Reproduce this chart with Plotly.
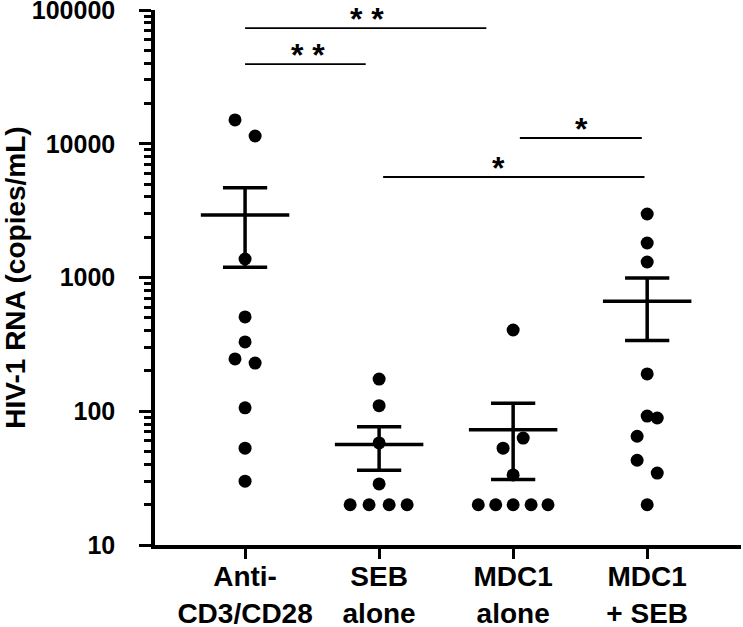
import numpy as np
import plotly.graph_objects as go

categories = ["Anti-<br>CD3/CD28", "SEB<br>alone", "MDC1<br>alone", "MDC1<br>+ SEB"]

anti_cd3 = [15070, 11430, 1375, 507, 330, 246, 229, 106, 53, 30]
seb_alone = [174, 110, 58, 28.6, 20, 20, 20, 20]
mdc1_alone = [405, 63, 53, 33.4, 20, 20, 20, 20, 20]
mdc1_seb = [2985, 1811, 1306, 190, 92, 89, 65, 43, 34.5, 20]

# horizontal scatter (jitter) offsets of the dots within each column
jit_anti = [-0.075, 0.075, 0, 0, 0, -0.075, 0.075, 0, 0, 0]
jit_seb = [0, 0, 0, 0, -0.216, -0.075, 0.075, 0.209]
jit_mdc1 = [0, 0.075, -0.075, 0, -0.26, -0.13, 0, 0.134, 0.26]
jit_mdc1_seb = [0, 0, 0, 0, 0, 0.075, -0.075, -0.075, 0.075, 0]

groups = [anti_cd3, seb_alone, mdc1_alone, mdc1_seb]
jitters = [jit_anti, jit_seb, jit_mdc1, jit_mdc1_seb]

# significance comparisons: start, end, bar level, label, label x
sig_x0 = [0.0, 0.0, 2.05, 1.03]
sig_x1 = [1.8, 0.9, 2.96, 2.98]
sig_y = [73300, 39400, 11040, 5640]
sig_label = ["* *", "* *", "*", "*"]
sig_label_x = [0.91, 0.47, 2.51, 1.89]

y_tick_vals = [10, 100, 1000, 10000, 100000]
y_tick_text = ["10", "100", "1000", "10000", "100000"]

FONT = "Liberation Sans, Arial, sans-serif"

fig = go.Figure()

# dots
for i, (vals, jit) in enumerate(zip(groups, jitters)):
    fig.add_trace(go.Scatter(
        x=[i + j for j in jit], y=vals, mode="markers",
        marker=dict(color="black", size=13, line=dict(width=0)),
        showlegend=False, hoverinfo="y"))

# mean and SEM
mx, my = [], []
ex, ey = [], []
for i, vals in enumerate(groups):
    v = np.array(vals, dtype=float)
    m = v.mean()
    sem = v.std(ddof=1) / np.sqrt(len(v))
    mx += [i - 0.33, i + 0.33, None]
    my += [m, m, None]
    ex += [i, i, None, i - 0.165, i + 0.165, None, i - 0.165, i + 0.165, None]
    ey += [m - sem, m + sem, None, m + sem, m + sem, None, m - sem, m - sem, None]

fig.add_trace(go.Scatter(x=mx, y=my, mode="lines",
                         line=dict(color="black", width=3.5),
                         showlegend=False, hoverinfo="skip"))
fig.add_trace(go.Scatter(x=ex, y=ey, mode="lines",
                         line=dict(color="black", width=3.5),
                         showlegend=False, hoverinfo="skip"))

# significance bars
bx, by = [], []
for x0, x1, y in zip(sig_x0, sig_x1, sig_y):
    bx += [x0, x1, None]
    by += [y, y, None]
fig.add_trace(go.Scatter(x=bx, y=by, mode="lines",
                         line=dict(color="black", width=1.8),
                         showlegend=False, hoverinfo="skip", cliponaxis=False))
for lx, y, s in zip(sig_label_x, sig_y, sig_label):
    fig.add_annotation(x=lx, y=np.log10(y), xref="x", yref="y",
                       text="<b>%s</b>" % s, showarrow=False,
                       yanchor="middle", xanchor="center", yshift=9,
                       font=dict(family=FONT, size=32, color="black"))

fig.update_layout(
    width=743, height=627,
    margin=dict(l=155, r=2, t=10, b=82, autoexpand=False),
    plot_bgcolor="white", paper_bgcolor="white",
    font=dict(family=FONT, color="black"),
    xaxis=dict(
        range=[-0.672, 3.70],
        automargin=False,
        tickmode="array", tickvals=[0, 1, 2, 3],
        ticktext=["<b>%s</b>" % c for c in categories],
        tickfont=dict(size=28, color="black"),
        ticklabelstandoff=-6,
        ticks="outside", ticklen=10, tickwidth=3, tickcolor="black",
        showline=True, linecolor="black", linewidth=3.5,
        showgrid=False, zeroline=False,
    ),
    yaxis=dict(
        type="log", range=[1, 5],
        automargin=False,
        tickmode="array", tickvals=y_tick_vals,
        ticktext=["<b>%s</b>" % t for t in y_tick_text],
        tickfont=dict(size=25, color="black"),
        ticklabeloverflow="allow",
        ticklabelstandoff=19,
        ticks="outside", ticklen=12, tickwidth=3, tickcolor="black",
        minor=dict(tickmode="array",
                   tickvals=[k * 10 ** e for e in range(1, 5) for k in range(2, 10)],
                   ticks="outside", ticklen=7, tickwidth=3, tickcolor="black",
                   showgrid=False),
        showline=True, linecolor="black", linewidth=3.5,
        showgrid=False, zeroline=False,
        title=dict(text="<b>HIV-1 RNA (copies/mL)</b>", font=dict(size=28, color="black"),
                   standoff=10),
    ),
)

fig.write_html("out.html", config={"displayModeBar": False},
               post_script="document.body.style.margin='0';")
